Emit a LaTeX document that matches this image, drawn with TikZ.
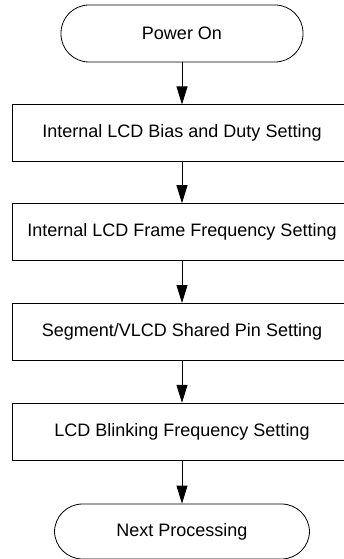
\documentclass[tikz,border=0pt]{standalone}
\usepackage{fontspec}
\setmainfont{Liberation Sans}
\usepackage{tikz}
\usetikzlibrary{arrows.meta,positioning}

\begin{document}
\begin{tikzpicture}[
    node distance=42pt,
    every node/.style={font=\fontsize{18}{21}\selectfont},
    terminal/.style={rectangle, rounded corners=28pt, draw, line width=0.8pt, minimum height=57pt, inner sep=0pt},
    process/.style={rectangle, draw, line width=0.8pt, minimum width=340pt, minimum height=57pt, inner sep=0pt},
    arrow/.style={-{Triangle[length=18pt,width=11pt]}, line width=0.8pt}
]
\useasboundingbox (0,0) rectangle (344pt,-559pt);

% Start
\node[terminal, minimum width=242pt] (power) at (182pt,-33.5pt) {Power On};

% Settings
\node[process, below=of power] (bias) {Internal LCD Bias and Duty Setting};
\node[process, below=41pt of bias] (frame) {Internal LCD Frame Frequency Setting};
\node[process, below=of frame] (shared) {Segment/VLCD Shared Pin Setting};
\node[process, below=of shared] (blink) {LCD Blinking Frequency Setting};

% End
\node[terminal, minimum width=255pt, minimum height=55pt, below=43pt of blink] (next) {Next Processing};

% Arrows
\draw[arrow] (power) -- (bias);
\draw[arrow] (bias) -- (frame);
\draw[arrow] (frame) -- (shared);
\draw[arrow] (shared) -- (blink);
\draw[arrow] (blink) -- (next);

\end{tikzpicture}
\end{document}
